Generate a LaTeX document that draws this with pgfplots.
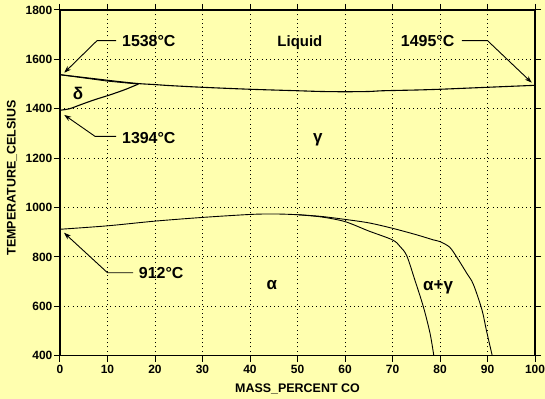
\documentclass[border=0pt]{standalone}
\usepackage{fontspec}
\setmainfont{Liberation Sans}
\usepackage{pgfplots}
\pgfplotsset{compat=1.18}
\usetikzlibrary{arrows.meta}
\definecolor{bg}{RGB}{255,255,175}
\begin{document}
\begin{tikzpicture}
\fill[bg] (-60bp,-43.3bp) rectangle (485bp,355.7bp);
\begin{axis}[
  scale only axis, width=475bp, height=345.7bp,
  xmin=0, xmax=100, ymin=400, ymax=1800,
  xtick={0,10,...,100}, ytick={400,600,...,1800},
  tick align=outside, major tick length=6bp,
  xtick pos=both, ytick pos=both,
  xticklabel pos=left, yticklabel pos=left,
  grid=major,
  grid style={black, line width=0.9bp, dash pattern=on 1bp off 3.2bp},
  axis line style={line width=1.2bp},
  every tick/.style={black, line width=1bp},
  ticklabel style={font=\bfseries\fontsize{12}{14}\selectfont},
  yticklabel style={inner sep=1.5bp},
  /pgf/number format/assume math mode=true,
  /pgf/number format/1000 sep={},
  xlabel={MASS\_PERCENT CO}, ylabel={TEMPERATURE\_CELSIUS},
  every axis x label/.style={at={(axis description cs:0.5,-0.0963)}, anchor=center, font=\bfseries\fontsize{12.5}{14}\selectfont},
  every axis y label/.style={at={(axis description cs:-0.101,0.514)}, anchor=center, rotate=90, font=\bfseries\fontsize{12.5}{14}\selectfont},
  clip=false,
]
% liquidus
\addplot[black, line width=1.1bp, smooth, tension=0.5] coordinates {
(0,1538) (4,1529) (8,1520) (12,1511) (16.5,1502) (20,1498) (23,1494) (30,1487)
(40,1479) (50,1473) (55,1470) (60,1469) (65,1470) (68,1473) (75,1476) (80,1479)
(85,1483) (90,1487) (95,1491) (100,1495)};
% delta upper boundary
\addplot[black, line width=0.9bp] coordinates {
(0,1538) (5,1525) (10,1512) (16.5,1500)};
% delta lower boundary
\addplot[black, line width=1.1bp, smooth, tension=0.5] coordinates {
(0,1394) (2,1400) (4,1414) (6,1428) (8,1441) (10,1453) (12,1466) (14,1480) (16.5,1500)};
% gamma / alpha+gamma boundary
\addplot[black, line width=0.9bp, smooth, tension=0.5] coordinates {
(0,912) (10,926) (20,945) (30,960) (40,972) (45,974) (50,971) (55,964) (60,952)
(65,938) (70,916) (75,890) (78.6,869) (80,862) (82,840) (83.5,800) (85.6,735)
(87,690) (88.8,588) (89.8,500) (91,400)};
% alpha / alpha+gamma boundary
\addplot[black, line width=0.9bp, smooth, tension=0.5] coordinates {
(50,971) (55,962) (60,943) (65,905) (70,869) (71.6,842) (73,805) (74.7,707)
(76.5,598) (77.9,491) (78.7,400)};
% labels
\node[font=\bfseries\fontsize{15}{17}\selectfont] at (axis cs:50.5,1666) {Liquid};
\node[font=\bfseries\fontsize{17}{19}\selectfont] at (axis cs:3.8,1464) {δ};
\node[font=\bfseries\fontsize{17}{19}\selectfont] at (axis cs:54.3,1273) {γ};
\node[font=\bfseries\fontsize{17}{19}\selectfont] at (axis cs:44.6,686) {α};
\node[font=\bfseries\fontsize{17}{19}\selectfont] at (axis cs:79.6,678) {α+γ};
% annotations
\node[font=\bfseries\fontsize{16}{18}\selectfont] at (axis cs:18.7,1676) {1538°C};
\draw[line width=0.9bp, -{Stealth[length=7bp,width=5bp]}] (axis cs:11.8,1676) -- (axis cs:7.8,1676) -- (axis cs:0.9,1546);
\node[font=\bfseries\fontsize{16}{18}\selectfont] at (axis cs:18.7,1282) {1394°C};
\draw[line width=0.9bp, -{Stealth[length=7bp,width=5bp]}] (axis cs:11.8,1288) -- (axis cs:7.4,1288) -- (axis cs:0.9,1375);
\node[font=\bfseries\fontsize{16}{18}\selectfont] at (axis cs:21.3,735) {912°C};
\draw[line width=0.9bp, -{Stealth[length=7bp,width=5bp]}] (axis cs:15.4,736) -- (axis cs:10,736) -- (axis cs:0.85,898);
\node[font=\bfseries\fontsize{16}{18}\selectfont] at (axis cs:77.4,1676) {1495°C};
\draw[line width=0.9bp, -{Stealth[length=7bp,width=5bp]}] (axis cs:84.6,1676) -- (axis cs:90,1676) -- (axis cs:99.3,1506);
\end{axis}
\pgfresetboundingbox
\path (-60bp,-43.3bp) rectangle (485bp,355.7bp);
\end{tikzpicture}
\end{document}
